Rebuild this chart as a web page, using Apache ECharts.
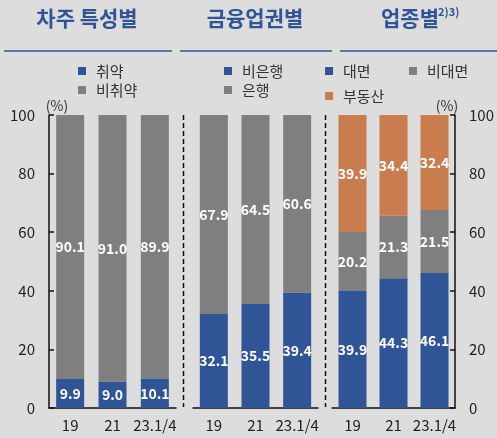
<!DOCTYPE html>
<html>
<head>
<meta charset="utf-8">
<script src="https://cdn.jsdelivr.net/npm/echarts@6/dist/echarts.min.js"></script>
<style>
  html, body { margin: 0; padding: 0; background: #dcdddc; }
  #chart { width: 497px; height: 438px; }
</style>
</head>
<body>
<div id="chart"></div>
<script>
// 데이터
const years = ['19', '21', '23.1/4'];
const weak = [9.9, 9.0, 10.1];
const nonWeak = [90.1, 91.0, 89.9];
const nonBank = [32.1, 35.5, 39.4];
const bank = [67.9, 64.5, 60.6];
const faceToFace = [39.9, 44.3, 46.1];
const nonFace = [20.2, 21.3, 21.5];
const realEstate = [39.9, 34.4, 32.4];

const FONT = '"Noto Sans CJK KR", "Noto Sans", sans-serif';
const BLUE = '#2f5597';
const GRAY = '#7f7f7f';
const ORANGE = '#c97d4e';
const TOP = 115, HEIGHT = 293;

const chart = echarts.init(document.getElementById('chart'), null, {renderer: 'canvas'});

const grids = [
  {left: 49, top: TOP, width: 127, height: HEIGHT},
  {left: 193, top: TOP, width: 125, height: HEIGHT},
  {left: 332, top: TOP, width: 125, height: HEIGHT},
];

const xAxes = grids.map((g, i) => ({
  type: 'category',
  gridIndex: i,
  data: years,
  axisLine: {lineStyle: {color: '#111', width: 1.5}},
  axisTick: {inside: true, length: 5, lineStyle: {color: '#111', width: 1.5}},
  axisLabel: {fontSize: 15, color: '#222', margin: 10, fontFamily: FONT, interval: 0, hideOverlap: false},
}));

const yBase = {
  type: 'value',
  min: 0,
  max: 100,
  interval: 20,
  splitLine: {show: false},
  axisLine: {show: true, lineStyle: {color: '#111', width: 1.5}},
  axisTick: {show: true, inside: true, length: 5, lineStyle: {color: '#111', width: 1.5}},
  axisLabel: {fontSize: 15, color: '#222', margin: 14, fontFamily: FONT},
};
const yAxes = [
  {...yBase, gridIndex: 0, position: 'left'},
  {...yBase, gridIndex: 1, show: false},
  {...yBase, gridIndex: 2, position: 'right'},
];

const label = {
  show: true,
  position: 'inside',
  color: '#fff',
  fontSize: 14,
  fontWeight: 'bold',
  fontFamily: FONT,
  formatter: p => p.value.toFixed(1),
};

function bar(name, data, idx, color, stack) {
  return {
    name, type: 'bar', data, stack,
    xAxisIndex: idx, yAxisIndex: idx,
    barWidth: 28,
    itemStyle: {color},
    label,
  };
}

const series = [
  bar('취약', weak, 0, BLUE, 'a'),
  bar('비취약', nonWeak, 0, GRAY, 'a'),
  bar('비은행', nonBank, 1, BLUE, 'b'),
  bar('은행', bank, 1, GRAY, 'b'),
  bar('대면', faceToFace, 2, BLUE, 'c'),
  bar('비대면', nonFace, 2, GRAY, 'c'),
  bar('부동산', realEstate, 2, ORANGE, 'c'),
];

// 범례 위치 (아이콘 왼쪽 x, 중심 y)
const legendPos = [
  ['취약', 78, 71], ['비취약', 78, 90],
  ['비은행', 224, 71], ['은행', 224, 90],
  ['대면', 325, 71], ['비대면', 409, 71], ['부동산', 325, 96],
];
const legends = legendPos.map(([name, x, y]) => ({
  data: [name],
  left: x,
  top: y - 7.5,
  padding: 0,
  icon: 'rect',
  itemWidth: 8,
  itemHeight: 8,
  selectedMode: false,
  textStyle: {fontSize: 15, lineHeight: 15, color: '#333', fontFamily: FONT, padding: [0, 0, 0, 5]},
}));

const titleStyle = {fontSize: 21, fontWeight: 'bold', fill: BLUE, fontFamily: FONT};
const graphic = [
  {type: 'text', x: 87, y: 18, style: {...titleStyle, text: '차주 특성별', textAlign: 'center', textVerticalAlign: 'middle'}},
  {type: 'text', x: 255, y: 18, style: {...titleStyle, text: '금융업권별', textAlign: 'center', textVerticalAlign: 'middle'}},
  {type: 'text', x: 410, y: 18, style: {...titleStyle, text: '업종별', textAlign: 'center', textVerticalAlign: 'middle'}},
  {type: 'text', x: 438, y: 6, style: {text: '2)3)', fontSize: 11, fontWeight: 'bold', fill: BLUE, fontFamily: FONT}},
  {type: 'line', shape: {x1: 4, y1: 51, x2: 172, y2: 51}, style: {stroke: BLUE, lineWidth: 1.5}},
  {type: 'line', shape: {x1: 180, y1: 51, x2: 332, y2: 51}, style: {stroke: BLUE, lineWidth: 1.5}},
  {type: 'line', shape: {x1: 340, y1: 51, x2: 497, y2: 51}, style: {stroke: BLUE, lineWidth: 1.5}},
  {type: 'line', shape: {x1: 183.5, y1: 115, x2: 183.5, y2: 407}, style: {stroke: '#111', lineWidth: 1.5, lineDash: [5, 3]}},
  {type: 'line', shape: {x1: 325.5, y1: 115, x2: 325.5, y2: 407}, style: {stroke: '#111', lineWidth: 1.5, lineDash: [5, 3]}},
  {type: 'text', x: 57, y: 106, style: {text: '(%)', fontSize: 14, fill: '#333', fontFamily: FONT, textAlign: 'center', textVerticalAlign: 'middle'}},
  {type: 'text', x: 447, y: 106, style: {text: '(%)', fontSize: 14, fill: '#333', fontFamily: FONT, textAlign: 'center', textVerticalAlign: 'middle'}},
];

chart.setOption({
  backgroundColor: '#dcdddc',
  animation: false,
  grid: grids,
  xAxis: xAxes,
  yAxis: yAxes,
  legend: legends,
  graphic,
  series,
});
</script>
</body>
</html>
